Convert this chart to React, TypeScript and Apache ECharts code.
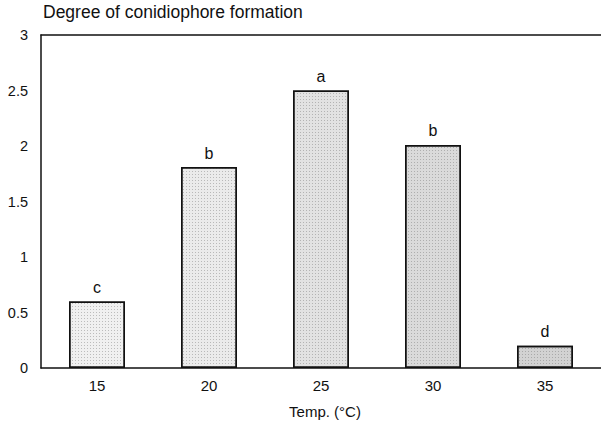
import React, { useEffect, useRef } from "react";
import * as echarts from "echarts";

const categories = ["15", "20", "25", "30", "35"];
const values = [0.6, 1.81, 2.5, 2.01, 0.2];
const letters = ["c", "b", "a", "b", "d"];
const fills = ["#f0f0f0", "#ebebeb", "#e2e2e2", "#dadada", "#d2d2d2"];
const yTicks = [0, 0.5, 1, 1.5, 2, 2.5, 3];
const titleText = "Degree of conidiophore formation";

export default function App() {
  const ref = useRef<HTMLDivElement>(null);
  useEffect(() => {
    document.body.style.margin = "0";
    const chart = echarts.init(ref.current!, null, { renderer: "svg" });
    const font = "'Liberation Sans', Arial, sans-serif";
    chart.setOption({
      animation: false,
      backgroundColor: "#ffffff",
      textStyle: { fontFamily: font },
      grid: { left: 41, right: 0, top: 35, bottom: 59 },
      graphic: [
        {
          type: "text",
          left: 43,
          top: 3,
          style: { text: titleText, font: `17.5px ${font}`, fill: "#111" },
        },
      ],
      xAxis: [
        {
          type: "category",
          data: categories,
          axisLine: { show: true, lineStyle: { color: "#111", width: 1.5 } },
          axisTick: { show: false },
          axisLabel: { fontFamily: font, fontSize: 15, color: "#111", margin: 10 },
          name: "Temp. (°C)",
          nameLocation: "middle",
          nameGap: 36,
          nameTextStyle: { fontFamily: font, fontSize: 15, color: "#111", padding: [0, 0, 0, 8] },
        },
        {
          type: "category",
          data: categories,
          position: "top",
          axisLine: { show: true, lineStyle: { color: "#111", width: 1.5 } },
          axisTick: { show: false },
          axisLabel: { show: false },
        },
      ],
      yAxis: {
        type: "value",
        min: 0,
        max: 3,
        interval: 0.5,
        axisLine: { show: true, lineStyle: { color: "#111", width: 1.5 } },
        axisTick: { show: false },
        splitLine: { show: false },
        axisLabel: {
          fontFamily: font,
          fontSize: 14.5,
          color: "#111",
          margin: 13,
          formatter: (v: number) => (yTicks.includes(v) ? String(v) : ""),
        },
      },
      series: [
        {
          type: "bar",
          barWidth: "50%",
          data: values.map((v, i) => ({
            value: v,
            itemStyle: {
              color: fills[i],
              borderColor: "#111",
              borderWidth: 1.5,
              decal: {
                symbol: "rect",
                symbolSize: 1,
                dashArrayX: [1, 2],
                dashArrayY: [1, 2],
                color: "rgba(90,90,90,0.35)",
              },
            },
          })),
          label: {
            show: true,
            position: "top",
            distance: 6,
            fontFamily: font,
            fontSize: 16,
            color: "#111",
            formatter: (p: any) => letters[p.dataIndex],
          },
        },
      ],
    });
    return () => chart.dispose();
  }, []);
  return <div ref={ref} style={{ width: 601, height: 427 }} />;
}
